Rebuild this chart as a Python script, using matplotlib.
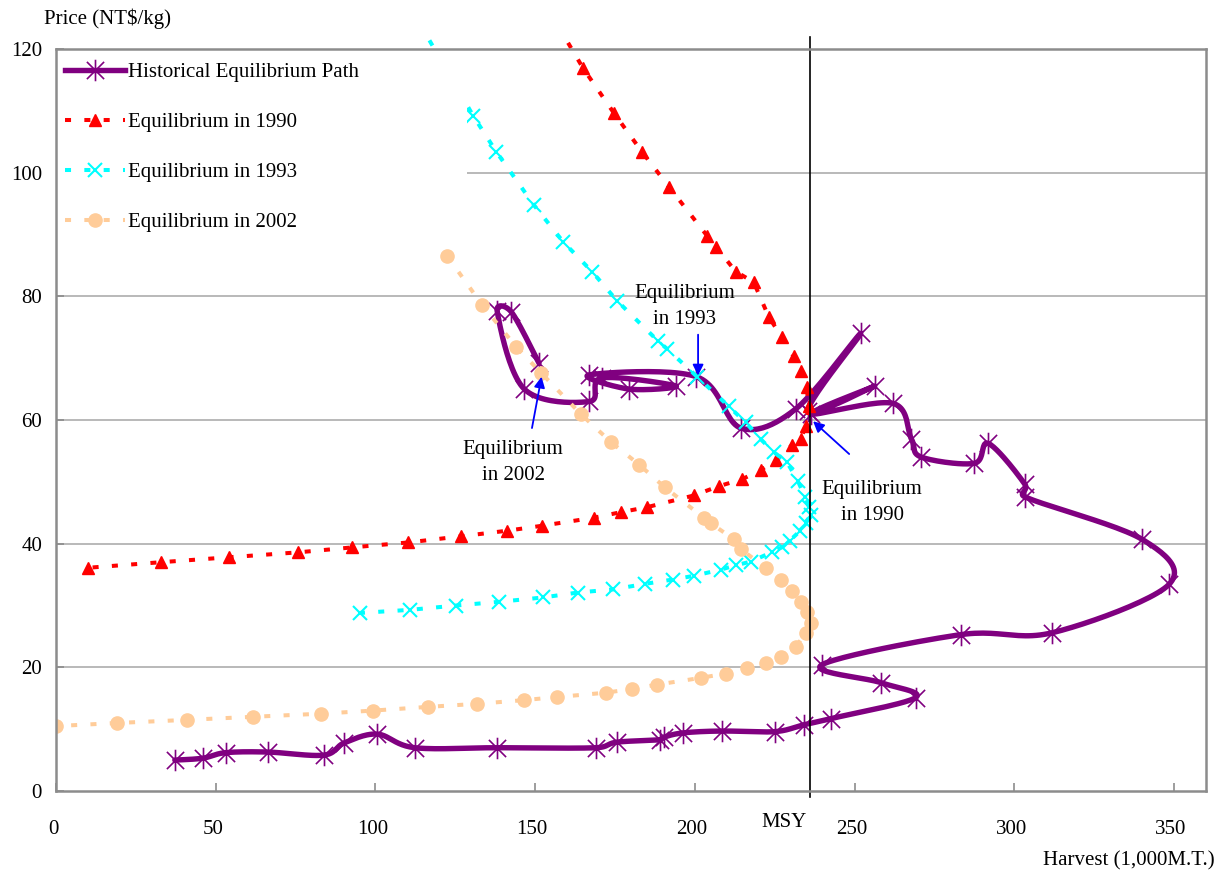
import numpy as np
import matplotlib
matplotlib.use("Agg")
import matplotlib.pyplot as plt
from matplotlib.path import Path
from matplotlib.patches import Rectangle
from matplotlib.lines import Line2D
from matplotlib.transforms import ScaledTranslation

plt.rcParams['font.family'] = ['Liberation Serif', 'DejaVu Serif']

# ---- data -------------------------------------------------------------
# Historical equilibrium path (harvest in 1,000 M.T., price in NT$/kg)
hist_harvest = [37.2, 45.9, 53.1, 66.3, 83.8, 90.3, 100.6, 112.3, 138.1, 169.1,
                175.6, 189.2, 190.2, 196.3, 208.4, 225.0, 234.0, 242.5, 269.1, 258.4,
                239.7, 283.4, 311.9, 348.4, 340.0, 303.2, 303.3, 291.9, 287.5, 270.9,
                267.8, 261.9, 236.5, 256.3, 235.5, 251.9, 231.6, 214.4, 200.5, 166.9,
                179.4, 194.1, 170.9, 167.0, 146.6, 138.1, 142.5, 151.2]
hist_price = [5.0, 5.3, 6.2, 6.3, 5.8, 7.8, 9.2, 7.0, 7.0, 7.0,
              7.9, 8.3, 8.7, 9.4, 9.7, 9.6, 10.7, 11.7, 15.1, 17.5,
              20.4, 25.3, 25.6, 33.4, 40.7, 47.6, 49.6, 56.2, 53.0, 54.0,
              56.9, 62.7, 61.0, 65.5, 61.5, 74.0, 61.8, 58.7, 67.0, 67.3,
              65.0, 65.5, 66.8, 63.0, 65.0, 77.6, 77.5, 69.2]

# Equilibrium curve, 1990
eq1990_harvest = [160.3, 165.0, 174.7, 183.4, 191.9, 203.8, 206.6, 212.8, 218.4, 223.1,
                  227.2, 230.9, 233.1, 235.0, 235.6, 234.7, 233.1, 230.3, 225.3, 220.6,
                  214.7, 207.5, 199.7, 185.0, 176.9, 168.4, 152.2, 141.3, 126.9, 110.3,
                  92.8, 75.9, 54.1, 32.8, 10.0]
eq1990_price = [121.0, 116.9, 109.6, 103.4, 97.7, 89.8, 88.0, 84.0, 82.3, 76.7,
                73.4, 70.3, 67.9, 65.3, 62.2, 59.0, 56.9, 55.9, 53.5, 51.9,
                50.4, 49.3, 47.8, 45.9, 45.1, 44.2, 42.9, 42.1, 41.2, 40.2,
                39.4, 38.6, 37.8, 37.0, 36.1]

# Equilibrium curve, 1993
eq1993_harvest = [116.9, 130.6, 137.8, 149.7, 158.8, 167.8, 175.6, 188.4, 191.3, 200.7,
                  210.6, 215.9, 220.6, 224.7, 228.8, 232.2, 234.4, 235.6, 236.3, 234.7,
                  232.8, 229.7, 227.2, 224.0, 217.5, 212.8, 208.1, 199.7, 193.1, 184.4,
                  174.4, 163.4, 152.5, 138.8, 125.3, 110.9, 95.3]
eq1993_price = [121.4, 109.2, 103.4, 94.7, 88.8, 84.0, 79.3, 72.8, 71.5, 67.0,
                62.2, 59.6, 56.9, 54.8, 53.2, 50.2, 47.6, 46.0, 44.7, 43.3,
                42.0, 40.5, 39.4, 38.6, 37.1, 36.5, 35.8, 34.8, 34.2, 33.5,
                32.6, 32.1, 31.3, 30.6, 30.0, 29.3, 28.8]

# Equilibrium curve, 2002
eq2002_harvest = [122.5, 133.4, 144.1, 151.9, 164.4, 173.8, 182.5, 190.6, 202.8, 205.0,
                  212.2, 214.4, 222.2, 226.9, 230.3, 233.1, 235.0, 236.3, 234.7, 231.6,
                  226.9, 222.2, 216.3, 209.7, 201.9, 188.1, 180.3, 172.2, 156.9, 146.6,
                  131.9, 116.3, 99.1, 82.8, 61.6, 40.9, 19.1, 0.0]
eq2002_price = [86.5, 78.6, 71.8, 67.6, 60.9, 56.4, 52.8, 49.1, 44.2, 43.3,
                40.7, 39.1, 36.1, 34.2, 32.3, 30.6, 29.0, 27.2, 25.6, 23.3,
                21.7, 20.7, 19.9, 19.0, 18.3, 17.2, 16.5, 15.9, 15.2, 14.7,
                14.1, 13.6, 13.0, 12.5, 12.0, 11.5, 11.0, 10.5]

msy = 236.0
x_ticks = [0, 50, 100, 150, 200, 250, 300, 350]
y_ticks = [0, 20, 40, 60, 80, 100, 120]

# ---- figure -----------------------------------------------------------
W, H, DPI = 1227, 874, 100
FS = 15
fig = plt.figure(figsize=(W / DPI, H / DPI), dpi=DPI)
ax = fig.add_axes([56 / W, 83 / H, 1150 / W, 742 / H])
ax.set_xlim(0, 360)
ax.set_ylim(0, 120)

PURPLE = '#800080'
RED = '#FF0000'
CYAN = '#00FFFF'
PEACH = '#FFCC99'
GRID = '#A6A6A6'
SPINE = '#8C8C8C'


def _cap(vec, limit):
    n = np.hypot(*vec)
    return vec if n <= limit or n == 0 else vec * (limit / n)


def smooth_path(xs, ys, n=24, cap=0.6):
    """Bezier smoothing through every point (Catmull-Rom style), done in
    screen-proportional units so the curve keeps its shape on this aspect.
    Control arms are capped relative to the segment length to avoid loops."""
    sx = 1150 / 360.0
    sy = 742 / 120.0
    P = np.column_stack([np.asarray(xs) * sx, np.asarray(ys) * sy])
    Pp = np.vstack([P[0], P, P[-1]])
    t = np.linspace(0, 1, n, endpoint=False)[:, None]
    out = []
    for i in range(len(P) - 1):
        p0, p1, p2, p3 = Pp[i], Pp[i + 1], Pp[i + 2], Pp[i + 3]
        seg_len = np.hypot(*(p2 - p1))
        c1 = p1 + _cap((p2 - p0) / 6.0, cap * seg_len)
        c2 = p2 - _cap((p3 - p1) / 6.0, cap * seg_len)
        seg = ((1 - t) ** 3) * p1 + 3 * ((1 - t) ** 2) * t * c1 \
            + 3 * (1 - t) * t ** 2 * c2 + t ** 3 * p2
        out.append(seg)
    out.append(P[-1][None, :])
    out = np.vstack(out)
    return out[:, 0] / sx, out[:, 1] / sy


# asterisk marker: vertical bar plus an X
ast_verts = [(0, -1), (0, 1), (-0.8, -0.8), (0.8, 0.8), (-0.8, 0.8), (0.8, -0.8)]
ast_codes = [Path.MOVETO, Path.LINETO] * 3
asterisk = Path(ast_verts, ast_codes)

# grid
for yv in y_ticks[1:-1]:
    ax.axhline(yv, color=GRID, lw=1.1, zorder=1)

# historical path (smoothed line + markers)
sxp, syp = smooth_path(hist_harvest, hist_price)
ax.plot(sxp, syp, color=PURPLE, lw=3.9, solid_capstyle='round',
        solid_joinstyle='round', zorder=2)
ax.plot(hist_harvest, hist_price, ls='none', marker=asterisk, ms=15.5,
        mec=PURPLE, mfc='none', mew=1.2, zorder=2)

dash = (1.5, 3.3)
ax.plot(eq1990_harvest, eq1990_price, color=RED, lw=2.9, dashes=dash,
        marker='^', ms=8.5, mfc=RED, mec=RED, markevery=list(range(1, len(eq1990_harvest))),
        clip_on=False, zorder=3)
ax.plot(eq1993_harvest, eq1993_price, color=CYAN, lw=2.9, dashes=dash,
        marker='x', ms=9.5, mec=CYAN, mew=1.5, markevery=list(range(1, len(eq1993_harvest))),
        clip_on=False, zorder=3)
ax.plot(eq2002_harvest, eq2002_price, color=PEACH, lw=2.9, dashes=dash,
        marker='o', ms=9.5, mfc=PEACH, mec=PEACH, zorder=3)

# MSY reference line
ax.plot([msy, msy], [-1.0, 122.0], color='black', lw=1.2, clip_on=False, zorder=3.5)

# annotations
arrow = dict(arrowstyle='-|>', color='#0000FF', lw=1.3, mutation_scale=16,
             shrinkA=0, shrinkB=0)
tkw = dict(fontsize=FS, ha='center', va='center', multialignment='center',
           linespacing=1.5, zorder=6)
ax.text(196.9, 78.4, 'Equilibrium\nin 1993', **tkw)
ax.annotate('', xy=(201.0, 67.2), xytext=(201.0, 73.8), arrowprops=arrow, zorder=6)
ax.text(143.1, 53.2, 'Equilibrium\nin 2002', **tkw)
ax.annotate('', xy=(152.0, 67.0), xytext=(149.0, 58.7), arrowprops=arrow, zorder=6)
ax.text(255.5, 46.7, 'Equilibrium\nin 1990', **tkw)
ax.annotate('', xy=(237.0, 59.8), xytext=(248.3, 54.5), arrowprops=arrow, zorder=6)

# white panel behind the legend
ax.add_patch(Rectangle((0, 89.0), 128.75, 31.0, facecolor='white', edgecolor='none',
                       zorder=4))

handles = [
    Line2D([], [], color=PURPLE, lw=3.9, marker=asterisk, ms=15.5, mec=PURPLE, mew=1.2),
    Line2D([], [], color=RED, lw=2.9, dashes=dash, marker='^', ms=8.5, mfc=RED, mec=RED),
    Line2D([], [], color=CYAN, lw=2.9, dashes=dash, marker='x', ms=9.5, mec=CYAN, mew=1.5),
    Line2D([], [], color=PEACH, lw=2.9, dashes=dash, marker='o', ms=9.5, mfc=PEACH, mec=PEACH),
]
labels = ['Historical Equilibrium Path', 'Equilibrium in 1990',
          'Equilibrium in 1993', 'Equilibrium in 2002']
leg = ax.legend(handles, labels, loc='upper left', bbox_to_anchor=(0, 1 - 4 / 742),
                frameon=False, fontsize=FS, borderaxespad=0.0, borderpad=0.45,
                handlelength=2.85, handletextpad=0.15, labelspacing=1.46)
leg.set_zorder(5)

# axes styling
for sp in ax.spines.values():
    sp.set_color(SPINE)
    sp.set_linewidth(1.8)
    sp.set_zorder(5)
ax.set_xticks(x_ticks)
ax.set_yticks(y_ticks)
ax.tick_params(axis='both', direction='in', length=6, width=1.2, color=SPINE,
               labelsize=FS)
ax.tick_params(axis='x', pad=21, top=False)
ax.tick_params(axis='y', pad=10, right=False)
shift = ScaledTranslation(-3 / DPI, 0, fig.dpi_scale_trans)
for lab in ax.get_xticklabels():
    lab.set_transform(lab.get_transform() + shift)

ax.annotate('MSY', xy=(msy, 0), xycoords=('data', 'axes fraction'),
            xytext=(-3, -22), textcoords='offset pixels', ha='right', va='top',
            fontsize=FS)

fig.text(44 / W, 1 - 19 / H, 'Price (NT$/kg)', fontsize=FS, ha='left', va='center')
fig.text(1215 / W, 1 - 861 / H, 'Harvest (1,000M.T.)', fontsize=FS,
         ha='right', va='center')

fig.savefig('out.png', dpi=DPI)
